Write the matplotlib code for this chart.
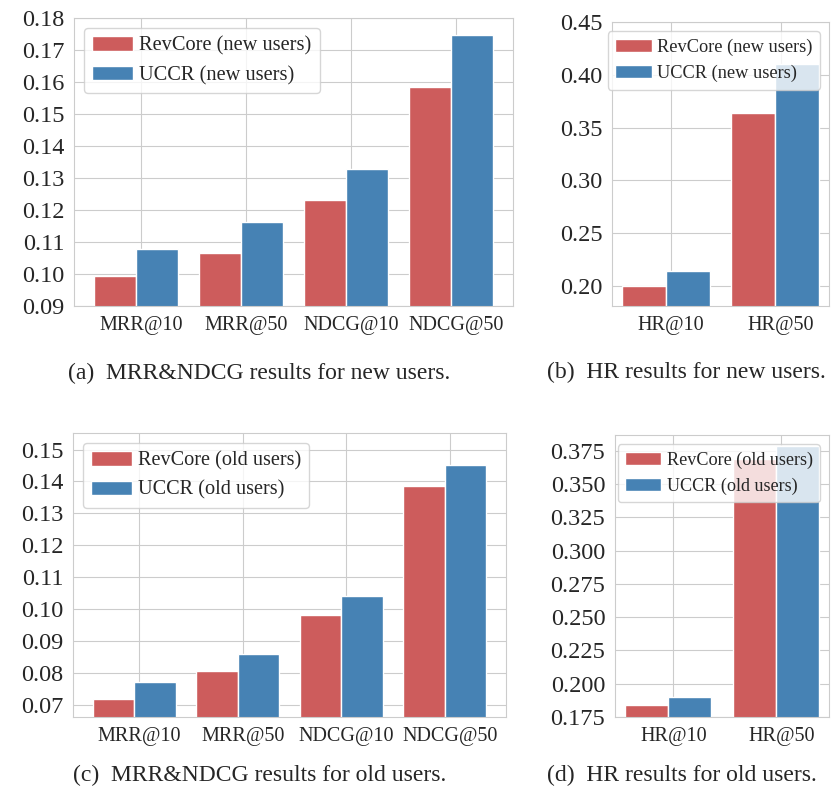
import matplotlib
matplotlib.use('Agg')
import matplotlib.pyplot as plt
import numpy as np
import seaborn as sns

sns.set_style('whitegrid')
plt.rcParams['font.family'] = ['Liberation Serif', 'DejaVu Serif']

# data
mrr_labels = ['MRR@10', 'MRR@50', 'NDCG@10', 'NDCG@50']
hr_labels = ['HR@10', 'HR@50']

revcore_new_mrr = [0.0994, 0.1065, 0.1231, 0.1584]
uccr_new_mrr = [0.1078, 0.1162, 0.1327, 0.1747]
revcore_new_hr = [0.2000, 0.3642]
uccr_new_hr = [0.2146, 0.4100]

revcore_old_mrr = [0.0718, 0.0804, 0.0981, 0.1386]
uccr_old_mrr = [0.0772, 0.0859, 0.1040, 0.1452]
revcore_old_hr = [0.1837, 0.3687]
uccr_old_hr = [0.1900, 0.3785]

captions = ['(a)  MRR&NDCG results for new users.',
            '(b)  HR results for new users.',
            '(c)  MRR&NDCG results for old users.',
            '(d)  HR results for old users.']

RED = '#CD5C5C'
BLUE = '#4682B4'
W = 838
H = 793


def box(l, t, r, b):
    # pixel box -> figure fraction
    return [l / W, (H - b) / H, (r - l) / W, (b - t) / H]


def draw(ax, labels, rev, uccr, tag, ylim, yticks, fmt, legend_size, loc):
    r = np.arange(len(labels))
    width = 0.4
    ax.bar(r, rev, width, color=RED, label='RevCore (%s)' % tag)
    ax.bar(r + width, uccr, width, color=BLUE, label='UCCR (%s)' % tag)
    ax.set_xticks(r + 0.25)
    ax.set_xticklabels(labels, fontsize=14.5)
    ax.set_ylim(*ylim)
    ax.set_yticks(yticks)
    ax.set_yticklabels([fmt % v for v in yticks], fontsize=17.5)
    ax.legend(loc=loc, fontsize=legend_size, handletextpad=0.3)


fig = plt.figure(figsize=(W / 100, H / 100), dpi=100)

ax_a = fig.add_axes(box(74, 18, 513, 306))
draw(ax_a, mrr_labels, revcore_new_mrr, uccr_new_mrr, 'new users',
     (0.09, 0.18), np.arange(0.09, 0.1801, 0.01), '%.2f', 14.7, 'upper left')

ax_b = fig.add_axes(box(612, 22, 829, 306))
draw(ax_b, hr_labels, revcore_new_hr, uccr_new_hr, 'new users',
     (0.181, 0.45), np.arange(0.20, 0.4501, 0.05), '%.2f', 13.2, 'upper right')

ax_c = fig.add_axes(box(73, 433, 506, 717))
draw(ax_c, mrr_labels, revcore_old_mrr, uccr_old_mrr, 'old users',
     (0.0661, 0.1552), np.arange(0.07, 0.1501, 0.01), '%.2f', 14.6, 'upper left')

ax_d = fig.add_axes(box(615, 435, 829, 717))
draw(ax_d, hr_labels, revcore_old_hr, uccr_old_hr, 'old users',
     (0.175, 0.3868), np.arange(0.175, 0.3751, 0.025), '%.3f', 13.1, 'upper right')

fig.text(68 / W, 1 - 373 / H, captions[0], fontsize=17, va='center', ha='left')
fig.text(547 / W, 1 - 372 / H, captions[1], fontsize=17, va='center', ha='left')
fig.text(73 / W, 1 - 775 / H, captions[2], fontsize=17, va='center', ha='left')
fig.text(547 / W, 1 - 775 / H, captions[3], fontsize=17, va='center', ha='left')

fig.savefig('out.png', dpi=100)
